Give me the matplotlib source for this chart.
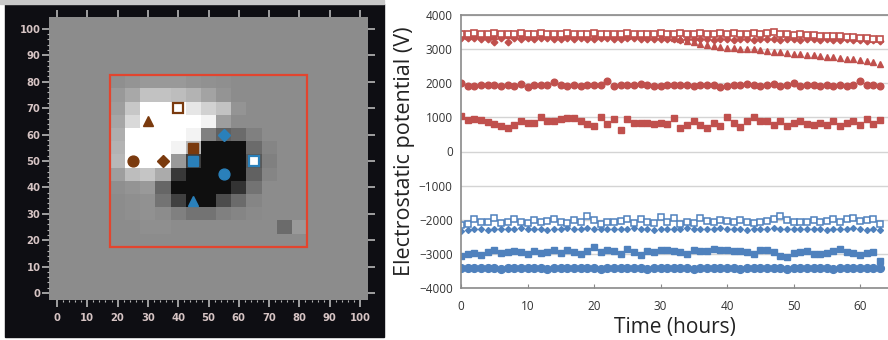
import matplotlib
matplotlib.use("Agg")
import matplotlib.pyplot as plt
from matplotlib.patches import Rectangle
import numpy as np

# ---------------- data: map panel ----------------
map_x = [15, 20, 25, 30, 35, 40, 45, 50, 55, 60, 65, 70, 75, 80, 85]
map_y = [85, 80, 75, 70, 65, 60, 55, 50, 45, 40, 35, 30, 25, 20, 15]
map_bg = 0.55
map_vals = [
    [.55, .55, .55, .55, .55, .55, .55, .55, .55, .55, .55, .55, .55, .55, .55],
    [.55, .56, .58, .60, .60, .60, .58, .57, .56, .55, .55, .55, .55, .55, .55],
    [.55, .60, .66, .76, .76, .74, .70, .64, .58, .55, .55, .55, .55, .55, .55],
    [.55, .62, .78, 1.0, 1.0, 1.0, .90, .82, .76, .58, .55, .55, .55, .55, .55],
    [.55, .65, .85, 1.0, 1.0, 1.0, 1.0, .95, .62, .55, .55, .55, .55, .55, .55],
    [.55, .68, 1.0, 1.0, 1.0, 1.0, .95, .50, .38, .42, .50, .55, .55, .55, .55],
    [.55, .70, 1.0, 1.0, 1.0, .95, .72, .06, .06, .06, .42, .52, .55, .55, .55],
    [.55, .72, 1.0, 1.0, 1.0, .60, .24, .06, .06, .06, .35, .50, .55, .55, .55],
    [.55, .62, .74, .77, .67, .22, .06, .06, .06, .06, .38, .52, .55, .55, .55],
    [.55, .56, .58, .60, .40, .06, .06, .06, .06, .20, .45, .55, .55, .55, .55],
    [.55, .55, .56, .57, .45, .25, .06, .06, .30, .42, .52, .55, .55, .55, .55],
    [.55, .55, .56, .57, .55, .50, .45, .45, .50, .52, .54, .55, .55, .55, .55],
    [.55, .55, .55, .56, .56, .55, .55, .55, .55, .55, .55, .55, .42, .60, .55],
    [.55, .55, .55, .55, .55, .55, .55, .55, .55, .55, .55, .55, .55, .55, .55],
    [.55, .55, .55, .55, .55, .55, .55, .55, .55, .55, .55, .55, .55, .55, .55],
]
roi_x = [17.5, 82.5]
roi_y = [17.5, 82.5]
brown_markers = ["s_open", "^", "s", "o", "D"]
brown_x = [40, 30, 45, 25, 35]
brown_y = [70, 65, 55, 50, 50]
blue_markers = ["D", "s", "s_open", "o", "^"]
blue_x = [55, 45, 65, 55, 45]
blue_y = [60, 50, 50, 45, 35]

# ---------------- data: time series panel ----------------
hours = list(range(64))
red_open_sq = [3440, 3450, 3460, 3450, 3440, 3460, 3450, 3450, 3440, 3460,
               3450, 3450, 3460, 3440, 3450, 3450, 3460, 3450, 3440, 3450,
               3460, 3450, 3450, 3440, 3450, 3460, 3450, 3450, 3440, 3450,
               3460, 3450, 3450, 3460, 3450, 3450, 3460, 3450, 3450, 3460,
               3450, 3460, 3450, 3450, 3460, 3450, 3470, 3490, 3440, 3430,
               3420, 3440, 3410, 3400, 3390, 3390, 3380, 3370, 3360, 3350,
               3340, 3320, 3310, 3300]
red_diamond = [3330, 3320, 3340, 3310, 3300, 3220, 3320, 3200, 3330, 3310,
               3320, 3300, 3330, 3320, 3310, 3300, 3330, 3310, 3320, 3310,
               3300, 3320, 3330, 3310, 3300, 3320, 3330, 3300, 3310, 3300,
               3290, 3300, 3310, 3280, 3300, 3310, 3290, 3300, 3280, 3300,
               3310, 3270, 3300, 3290, 3280, 3300, 3310, 3290, 3280, 3300,
               3290, 3280, 3290, 3300, 3280, 3290, 3270, 3280, 3290, 3270,
               3260, 3250, 3260, 3250]
red_triangle = [3400, 3390, 3400, 3410, 3400, 3390, 3400, 3400, 3410, 3400,
                3390, 3400, 3400, 3410, 3400, 3390, 3400, 3400, 3410, 3400,
                3400, 3390, 3400, 3410, 3400, 3390, 3400, 3400, 3390, 3380,
                3370, 3350, 3320, 3290, 3250, 3200, 3150, 3110, 3080, 3060,
                3040, 3020, 3010, 3000, 2990, 2970, 2950, 2930, 2910, 2890,
                2870, 2860, 2840, 2820, 2800, 2780, 2760, 2740, 2720, 2700,
                2680, 2650, 2620, 2560]
red_circle = [2010, 1920, 1930, 1950, 1960, 1950, 1920, 1950, 1930, 1970,
              1900, 1940, 1950, 1960, 2040, 1940, 1930, 1950, 1920, 1960,
              1940, 1950, 2060, 1930, 1940, 1960, 1940, 1990, 1950, 1930,
              1920, 1940, 1950, 1960, 1940, 1910, 1950, 1960, 1940, 1900,
              1930, 1950, 1940, 1970, 1950, 1920, 1960, 1990, 1930, 1940,
              2010, 1910, 1950, 1960, 1920, 1950, 1930, 1940, 1920, 1950,
              2060, 1950, 1960, 1930]
red_square = [1050, 920, 950, 930, 850, 800, 760, 700, 790, 900,
              840, 840, 1000, 880, 880, 950, 970, 970, 880, 820,
              760, 1020, 820, 950, 640, 950, 840, 840, 830, 800,
              840, 800, 980, 700, 770, 880, 780, 700, 840, 760,
              1010, 830, 710, 890, 1000, 880, 890, 790, 880, 760,
              830, 880, 800, 770, 830, 780, 880, 750, 840, 880,
              780, 960, 820, 930]
blue_open_sq = [-2150, -2120, -1990, -2080, -2060, -1960, -2100, -2070, -1980, -2060,
                -2090, -2000, -2080, -2050, -1990, -2080, -2100, -2020, -2060, -1880,
                -2000, -2110, -2060, -2070, -2030, -1980, -2090, -1970, -2060, -2100,
                -1920, -2080, -1940, -2110, -2060, -2090, -1940, -2030, -2060, -2000,
                -2050, -2080, -2000, -2060, -2100, -2080, -2030, -1970, -1880, -2020,
                -2080, -2060, -2060, -2010, -2070, -2040, -1990, -2060, -1990, -1960,
                -2050, -2020, -1990, -2110]
blue_diamond = [-2330, -2300, -2280, -2270, -2290, -2270, -2260, -2280, -2270, -2250,
                -2280, -2260, -2270, -2290, -2260, -2270, -2250, -2280, -2260, -2240,
                -2270, -2280, -2260, -2270, -2280, -2260, -2250, -2270, -2280, -2300,
                -2270, -2260, -2280, -2270, -2250, -2270, -2280, -2260, -2270, -2250,
                -2280, -2260, -2270, -2290, -2270, -2280, -2260, -2250, -2270, -2280,
                -2260, -2270, -2280, -2260, -2270, -2290, -2270, -2260, -2280, -2250,
                -2270, -2290, -2280, -2290]
blue_square = [-3050, -3000, -2960, -3020, -2950, -2880, -2970, -2950, -2930, -2940,
               -2990, -2920, -2960, -2950, -2900, -2970, -2890, -2950, -3010, -2920,
               -2800, -2950, -2900, -2930, -3010, -2870, -2940, -3030, -2930, -2950,
               -2900, -2880, -2910, -2950, -3000, -2890, -2930, -2920, -2870, -2880,
               -2900, -2910, -2920, -2940, -3000, -2900, -2900, -2950, -3060, -3080,
               -2960, -2940, -2920, -3000, -3000, -2980, -2920, -2870, -2950, -2960,
               -3020, -2980, -2940, -3200]
blue_circle = [-3420, -3410, -3420, -3420, -3410, -3420, -3430, -3420, -3410, -3420,
               -3420, -3410, -3420, -3430, -3420, -3410, -3420, -3420, -3410, -3420,
               -3420, -3430, -3420, -3410, -3420, -3420, -3410, -3420, -3430, -3420,
               -3410, -3420, -3420, -3410, -3420, -3430, -3420, -3410, -3420, -3420,
               -3410, -3420, -3430, -3420, -3410, -3420, -3420, -3410, -3420, -3430,
               -3420, -3410, -3420, -3420, -3410, -3420, -3430, -3420, -3410, -3420,
               -3420, -3410, -3420, -3420]
y_ticks = [-4000, -3000, -2000, -1000, 0, 1000, 2000, 3000, 4000]
x_ticks = [0, 10, 20, 30, 40, 50, 60]

RED = "#C0504D"
BLUE = "#4F81BD"
BROWN = "#7A3A0E"
MBLUE = "#2A80BA"

W, H = 888, 340
fig = plt.figure(figsize=(W / 100, H / 100), dpi=100)
fig.patch.set_facecolor("white")

# black panel background
fig.patches.append(Rectangle((5 / W, 3 / H), (384 - 5) / W, (336 - 3) / H,
                             transform=fig.transFigure, color="#0e0e13", zorder=-5))
fig.patches.append(Rectangle((0, 336 / H), 384 / W, 4 / H,
                             transform=fig.transFigure, color="#c8c8c8", zorder=-5))

# ---------------- left: map ----------------
axm = fig.add_axes([49.4 / W, 1 - 299.6 / H, (367.6 - 49.4) / W, (299.6 - 17) / H])
axm.set_facecolor(plt.cm.gray(map_bg))
xs = np.array(map_x, dtype=float)
ys = np.array(map_y, dtype=float)
xe = np.concatenate([xs - 2.5, [xs[-1] + 2.5]])
ye = np.concatenate([ys + 2.5, [ys[-1] - 2.5]])
axm.pcolormesh(xe, ye, np.array(map_vals), cmap="gray", vmin=0, vmax=1, shading="flat")
axm.add_patch(Rectangle((roi_x[0], roi_y[0]), roi_x[1] - roi_x[0], roi_y[1] - roi_y[0],
                        fill=False, edgecolor="#E2452F", lw=1.6, zorder=5))


def draw_marker(ax, m, x, y, col):
    if m == "s_open":
        ax.plot(x, y, marker="s", ms=6.5, mfc="white", mec=col, mew=1.6, ls="none", zorder=6)
    elif m == "D":
        ax.plot(x, y, marker="D", ms=6.2, color=col, mec=col, ls="none", zorder=6)
    elif m == "^":
        ax.plot(x, y, marker="^", ms=7.8, color=col, mec=col, ls="none", zorder=6)
    elif m == "s":
        ax.plot(x, y, marker="s", ms=6.5, color=col, mec=col, ls="none", zorder=6)
    else:
        ax.plot(x, y, marker="o", ms=7.8, color=col, mec=col, ls="none", zorder=6)


for m, x, y in zip(brown_markers, brown_x, brown_y):
    draw_marker(axm, m, x, y, BROWN)
for m, x, y in zip(blue_markers, blue_x, blue_y):
    draw_marker(axm, m, x, y, MBLUE)

axm.set_xlim(-2.5, 102.5)
axm.set_ylim(-2.5, 104.5)
axm.set_xticks(range(0, 101, 10))
axm.set_yticks(range(0, 101, 10))
axm.set_xticks(range(0, 101, 2), minor=True)
axm.set_yticks(range(0, 101, 2), minor=True)
for s in axm.spines.values():
    s.set_visible(False)
tickcol = "#b8b8b8"
labcol = "#d6c4c4"
axm.tick_params(axis="both", which="major", colors=tickcol, labelcolor=labcol,
                labelsize=7.2, length=5, width=1.2, pad=1.5, direction="out")
axm.tick_params(axis="both", which="minor", colors=tickcol, length=1.5, width=0.8)
axm.tick_params(axis="x", which="major", top=True, bottom=True, pad=5)
axm.tick_params(axis="x", which="minor", top=False, bottom=True)
axm.tick_params(axis="y", which="major", right=True, left=True)
axm.tick_params(axis="y", which="minor", right=False, left=True)
for lab in axm.get_xticklabels() + axm.get_yticklabels():
    lab.set_fontweight("bold")

# ---------------- right: time series ----------------
ax = fig.add_axes([461 / W, 1 - 288 / H, (888 - 461) / W, (288 - 15) / H])
ax.set_axisbelow(True)
ax.grid(axis="y", color="#d4d4d4", lw=1)
ax.set_xlim(0, 64.2)
ax.set_ylim(-4000, 4000)
ax.set_yticks(y_ticks)
ax.set_xticks(x_ticks)

ax.plot(hours, red_square, ls="none", marker="s", ms=4.8, color=RED)
ax.plot(hours, red_circle, ls="none", marker="o", ms=4.8, color=RED)
ax.plot(hours, red_triangle, ls="none", marker="^", ms=4.6, color=RED)
ax.plot(hours, red_diamond, ls="none", marker="D", ms=3.4, color=RED)
ax.plot(hours, red_open_sq, ls="none", marker="s", ms=4.4, mfc="white", mec=RED, mew=1.2)

ax.plot(hours, blue_circle, ls="none", marker="o", ms=5.6, color=BLUE)
ax.plot(hours, blue_square, ls="none", marker="s", ms=4.8, color=BLUE)
ax.plot(hours, blue_diamond, ls="none", marker="D", ms=3.0, color=BLUE)
ax.plot(hours, blue_open_sq, ls="none", marker="s", ms=5.0, mfc="white", mec=BLUE, mew=1.1)

for side in ["left", "bottom", "top"]:
    ax.spines[side].set_color("#8a8a8a")
    ax.spines[side].set_linewidth(1.2)
ax.spines["right"].set_visible(False)
ax.tick_params(axis="y", length=0, labelsize=8.5, labelcolor="#333333", pad=6)
ax.tick_params(axis="x", length=3, direction="in", color="#8a8a8a", labelsize=8.5,
               labelcolor="#333333", pad=9)
for lab in ax.get_xticklabels() + ax.get_yticklabels():
    lab.set_family("Open Sans")
ax.set_xlabel("Time (hours)", fontsize=15, family="Open Sans", color="#222222", labelpad=0)
ax.set_ylabel("Electrostatic potential (V)", fontsize=15.5, family="Open Sans", color="#222222")
ax.yaxis.set_label_coords(-(461 - 404) / (888 - 461), 0.5)
ax.xaxis.set_label_coords(0.5, -(328 - 288) / (288 - 15))
ax.xaxis.label.set_va("center")
ax.yaxis.label.set_va("center")

fig.savefig("out.png", dpi=100)
